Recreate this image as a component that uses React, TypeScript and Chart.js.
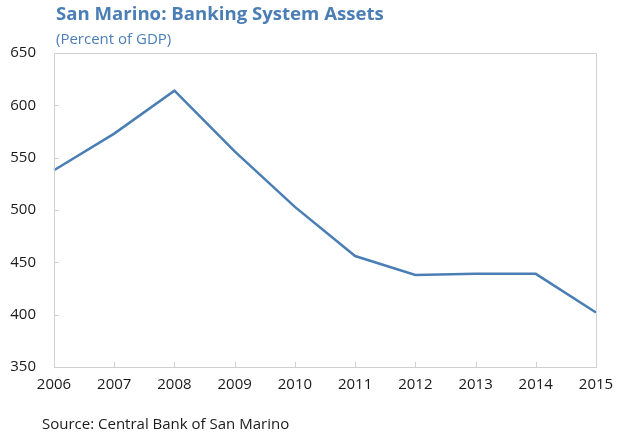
import React, { useEffect, useRef } from "react";
import { Chart, registerables } from "chart.js";

Chart.register(...registerables);

const years = ["2006", "2007", "2008", "2009", "2010", "2011", "2012", "2013", "2014", "2015"];
const assets = [538, 573, 614, 556, 503, 456, 438, 439, 439, 402];
const yTicks = [350, 400, 450, 500, 550, 600, 650];

const TITLE = "San Marino: Banking System Assets";
const SUBTITLE = "(Percent of GDP)";
const SOURCE = "Source: Central Bank of San Marino";

const BLUE = "#4a7eb5";
const FONT = "'Open Sans', 'Noto Sans', sans-serif";

const decor = {
  id: "decor",
  afterDatasetsDraw(chart: any) {
    const { ctx, chartArea, scales } = chart;
    const { left, right, top, bottom } = chartArea;
    ctx.save();
    ctx.strokeStyle = "#d0d0d0";
    ctx.lineWidth = 1;
    ctx.strokeRect(Math.round(left) + 0.5, Math.round(top) + 0.5, Math.round(right - left), Math.round(bottom - top));
    // inward ticks
    ctx.beginPath();
    yTicks.forEach((v) => {
      const y = Math.round(scales.y.getPixelForValue(v)) + 0.5;
      ctx.moveTo(left, y);
      ctx.lineTo(left + 5, y);
    });
    years.forEach((_, i) => {
      const x = Math.round(scales.x.getPixelForValue(i)) + 0.5;
      ctx.moveTo(x, bottom);
      ctx.lineTo(x, bottom - 5);
    });
    ctx.stroke();
    // texts
    ctx.textBaseline = "middle";
    ctx.textAlign = "left";
    ctx.fillStyle = BLUE;
    ctx.font = `bold 18.6px ${FONT}`;
    ctx.fillText(TITLE, 56, 15);
    ctx.font = `15px ${FONT}`;
    ctx.fillText(SUBTITLE, 56, 40);
    ctx.fillStyle = "#1a1a1a";
    ctx.font = `15px ${FONT}`;
    ctx.fillText(SOURCE, 42, 425);
    ctx.restore();
  },
};

export default function App() {
  const ref = useRef<HTMLCanvasElement>(null);
  useEffect(() => {
    document.body.style.margin = "0";
    const chart = new Chart(ref.current!, {
      type: "line",
      data: {
        labels: years,
        datasets: [
          {
            data: assets,
            borderColor: BLUE,
            borderWidth: 2.5,
            pointRadius: 0,
            tension: 0,
            fill: false,
          },
        ],
      },
      options: {
        animation: false,
        responsive: false,
        layout: { padding: { left: 0, right: 23, top: 53, bottom: 0 } },
        plugins: { legend: { display: false }, tooltip: { enabled: false } },
        scales: {
          x: {
            offset: false,
            grid: { display: false, drawTicks: false },
            border: { display: false },
            ticks: { color: "#1a1a1a", font: { family: FONT, size: 15 }, padding: 9, maxRotation: 0 },
            afterFit(s: any) {
              s.height = 69;
              s.paddingRight = 0;
              s.paddingLeft = 0;
            },
          },
          y: {
            min: 350,
            max: 650,
            grid: { display: false, drawTicks: false },
            border: { display: false },
            ticks: { stepSize: 50, color: "#1a1a1a", font: { family: FONT, size: 15 }, padding: 18 },
            afterFit(s: any) {
              s.width = 54;
              s.paddingTop = 0;
              s.paddingBottom = 0;
            },
          },
        },
      },
      plugins: [decor],
    });
    return () => chart.destroy();
  }, []);
  return <canvas ref={ref} width={619} height={436} style={{ display: "block" }} />;
}
